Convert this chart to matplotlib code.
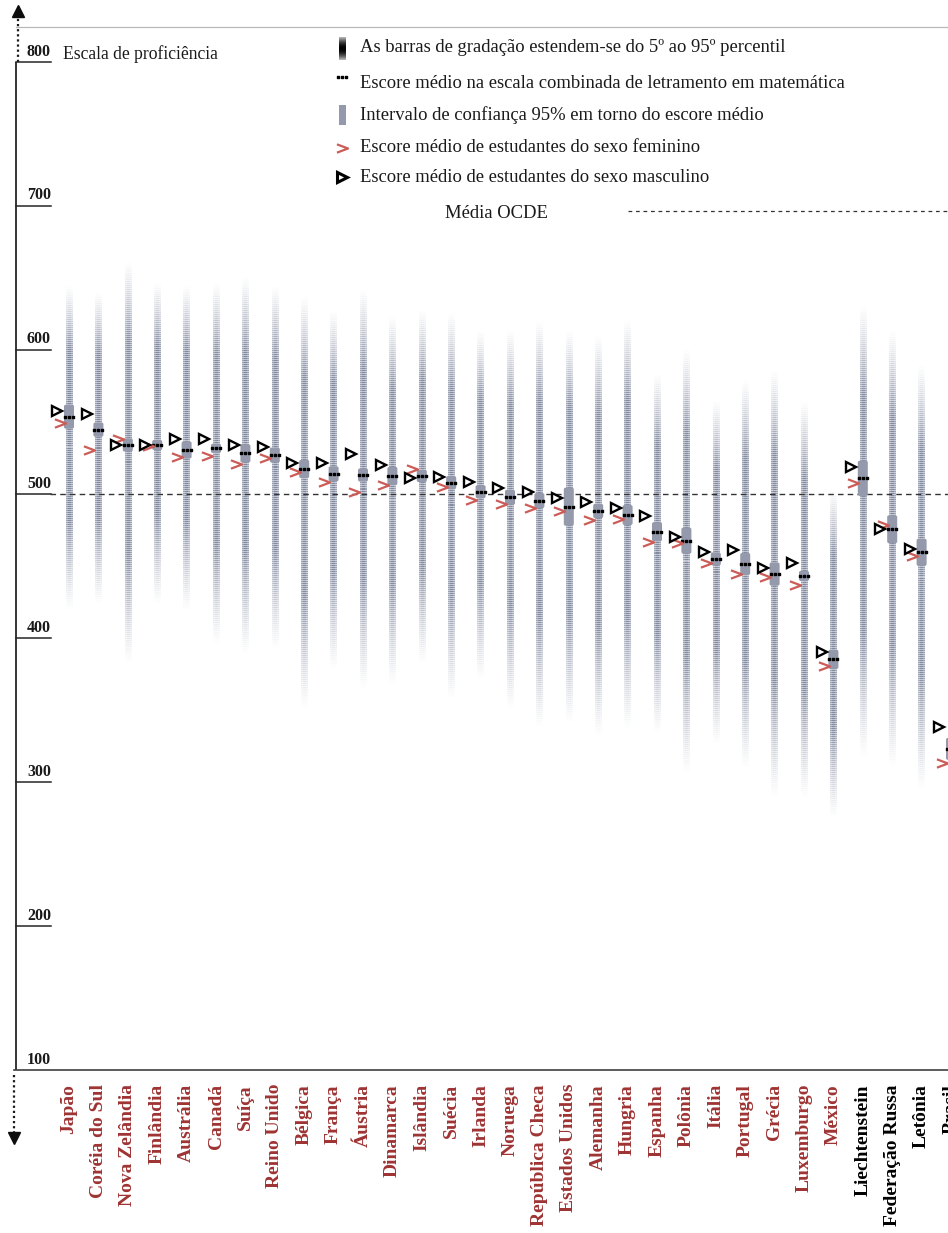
import numpy as np
import matplotlib
matplotlib.use("Agg")
import matplotlib.pyplot as plt
from matplotlib.path import Path
from matplotlib.patches import FancyBboxPatch, Rectangle
import matplotlib.transforms as mtrans

plt.rcParams['font.family'] = ['Liberation Serif', 'DejaVu Serif']

# ---------------- data ----------------
countries = ["Japão", "Coréia do Sul", "Nova Zelândia", "Finlândia", "Austrália",
             "Canadá", "Suíça", "Reino Unido", "Bélgica", "França", "Áustria",
             "Dinamarca", "Islândia", "Suécia", "Irlanda", "Noruega",
             "República Checa", "Estados Unidos", "Alemanha", "Hungria",
             "Espanha", "Polônia", "Itália", "Portugal", "Grécia", "Luxemburgo",
             "México", "Liechtenstein", "Federação Russa", "Letônia", "Brasil"]
is_oecd = [True] * 27 + [False] * 4

mean_score = [553.7, 544.7, 534.0, 534.0, 530.6, 531.7, 528.2, 527.0, 517.4, 514.0,
              513.2, 512.5, 512.5, 507.9, 501.6, 497.7, 495.4, 491.2, 488.2, 485.4,
              473.8, 467.6, 454.9, 451.4, 444.4, 443.1, 385.2, 510.9, 475.5, 459.5, 323.0]
male_score = [557.6, 555.6, 534.0, 534.0, 538.0, 538.0, 534.0, 532.4, 521.3, 521.3,
              527.8, 520.0, 510.9, 512.0, 508.6, 503.9, 501.2, 497.4, 494.7, 490.0,
              484.7, 470.4, 459.9, 461.1, 448.8, 452.3, 390.1, 518.5, 475.5, 461.6, 338.4]
female_score = [549.5, 530.6, 538.0, 533.5, 526.0, 526.6, 520.8, 524.8, 515.0, 508.6,
                501.6, 506.3, 517.1, 505.1, 495.8, 493.0, 490.0, 488.2, 481.9, 482.6,
                466.9, 465.8, 451.9, 444.4, 442.1, 436.8, 380.8, 507.4, 478.5, 457.0, 313.0]
ci_half = [8.3, 4.9, 4.5, 3.5, 5.9, 3.2, 6.3, 5.2, 6.3, 5.2, 4.5, 6.3, 4.2, 4.5, 4.5,
           5.2, 5.2, 13.2, 4.9, 6.9, 6.6, 9.0, 4.5, 7.6, 8.0, 3.5, 6.6, 12.2, 9.7, 9.4, 7.6]
p95 = [645, 640, 661, 647, 645, 647, 651, 645, 638, 628, 642, 624, 628, 626, 614,
       614, 621, 614, 610, 621, 583, 601, 565, 579, 586, 565, 503, 631, 614, 590, 450]
p5 = [419, 423, 381, 423, 418, 395, 388, 392, 350, 378, 364, 367, 381, 357, 371,
      350, 337, 340, 331, 336, 333, 305, 326, 309, 288, 288, 274, 316, 310, 294, 194]
oecd_mean = 500
y_ticks = [100, 200, 300, 400, 500, 600, 700, 800]

legend_texts = ["As barras de gradação estendem-se do 5º ao 95º percentil",
                "Escore médio na escala combinada de letramento em matemática",
                "Intervalo de confiança 95% em torno do escore médio",
                "Escore médio de estudantes do sexo feminino",
                "Escore médio de estudantes do sexo masculino"]

# ---------------- layout constants ----------------
W, H = 948, 1233
PX_X = 29.4      # pixels per country column
PX_Y = 1.44      # pixels per score point
X0 = 69          # pixel x of first column
Y800 = 62        # pixel y of score 800

RED = (0.80, 0.36, 0.34)
LABEL_RED = (0.62, 0.20, 0.20)
BAR_RGB = (0.50, 0.53, 0.62)
BOX_RGB = (0.58, 0.60, 0.67)

fig = plt.figure(figsize=(W / 100, H / 100), dpi=100)
deco = fig.add_axes([0, 0, 1, 1])
ax = fig.add_axes([0, 0, 1, 1])
for a in (deco, ax):
    a.axis('off')

xlim = (-X0 / PX_X, (W - X0) / PX_X)
ylim = (800 - (H - Y800) / PX_Y, 800 + Y800 / PX_Y)

x = np.arange(len(countries))

# ---------------- percentile gradient bars ----------------
bar_w = 6.5 / PX_X


def grad_bar(xc, lo, hi):
    L = max(int(round((hi - lo) * PX_Y)), 6)
    i = np.arange(L)
    t = (i + 0.5) / L
    fade = np.clip(np.minimum(t / 0.28, (1 - t) / 0.2), 0, 1) ** 1.2
    stripe = np.where(i % 2 == 1, 0.5, 1.0)
    alpha = 0.97 * fade * stripe
    img = np.zeros((L, 3, 4))
    img[..., 0], img[..., 1], img[..., 2] = BAR_RGB
    img[..., 3] = alpha[:, None] * np.array([0.8, 1.0, 0.8])[None, :]
    ax.imshow(img, extent=[xc - bar_w / 2, xc + bar_w / 2, lo, hi], origin='lower',
              aspect='auto', interpolation='nearest', zorder=1)


for xi, lo, hi in zip(x, p5, p95):
    grad_bar(xi, lo, hi)

# OECD mean dashed line
ax.plot([xlim[0] + 50 / PX_X, xlim[1]], [oecd_mean, oecd_mean], color='0.2',
        lw=1.0, ls=(0, (4, 3)), zorder=2)

# ---------------- confidence boxes ----------------
box_w = 10 / PX_X
aspect = PX_X / PX_Y
for xi, m, h in zip(x, mean_score, ci_half):
    ax.add_patch(FancyBboxPatch((xi - box_w / 2, m - h), box_w, 2 * h,
                                boxstyle="round,pad=0,rounding_size=0.06",
                                mutation_aspect=aspect, fc=BOX_RGB, ec='none', zorder=3))

# mean marker: three small squares
sq = []
codes = []
for cx in (-1.2, 0.0, 1.2):
    sq += [(cx - 0.4, -0.4), (cx + 0.4, -0.4), (cx + 0.4, 0.4), (cx - 0.4, 0.4), (cx - 0.4, -0.4)]
    codes += [Path.MOVETO, Path.LINETO, Path.LINETO, Path.LINETO, Path.CLOSEPOLY]
dots_marker = Path(sq, codes)
ax.plot(x, mean_score, ls='none', marker=dots_marker, ms=7.5, color='black', zorder=5)

# female chevron
chevron = Path([(-1, 0.75), (1, 0), (-1, -0.75)], [Path.MOVETO, Path.LINETO, Path.LINETO])
ax.plot(x - 0.32, female_score, ls='none', marker=chevron, ms=8, mfc='none', mec=RED,
        mew=1.6, zorder=6)
# male open triangle
ax.plot(x - 0.40, male_score, ls='none', marker='>', ms=7, mfc='white', mec='black',
        mew=1.7, zorder=7)

ax.set_xlim(*xlim)
ax.set_ylim(*ylim)

# ---------------- axis decoration ----------------
ty = mtrans.blended_transform_factory(deco.transData, ax.transData)   # x pixels, y scores
tx = mtrans.blended_transform_factory(ax.transData, deco.transData)   # x columns, y pixels

# vertical axis
deco.plot([16, 16], [800, 100], color='0.15', lw=1.3, transform=ty, solid_capstyle='butt')
deco.plot([18, 18], [Y800, 16], color='0.1', lw=1.6, ls=(0, (1, 1.3)))
deco.plot([18], [11], marker='^', ms=9, color='0.05', ls='none')
deco.plot([14, 14], [1075, 1132], color='0.1', lw=1.6, ls=(0, (1, 1.3)))
deco.plot([14], [1138], marker='v', ms=9, color='0.05', ls='none')
# bottom axis line and top grey rule
deco.plot([14, W], [100, 100], color='0.25', lw=1.2, transform=ty)
deco.plot([16, W], [27, 27], color='0.72', lw=0.9)

for v in y_ticks:
    if v != 100:
        deco.plot([16, 51], [v, v], color='0.15', lw=1.1, transform=ty)
    deco.text(51, v + 2.5 / PX_Y, str(v), transform=ty, ha='right', va='bottom',
              fontsize=11.5, fontweight='bold', color='0.1')

deco.text(63, Y800 - 3, "Escala de proficiência", ha='left', va='baseline',
          fontsize=12.7, color='0.1')

# country labels
for xi, name, o in zip(x, countries, is_oecd):
    deco.text(xi, 1084, name, transform=tx, rotation=90, ha='center', va='top',
              fontsize=14, fontweight='bold', color=LABEL_RED if o else 'black')

# ---------------- legend ----------------
leg_y = [47, 84, 115, 147, 178]
leg_x_icon = 342
for yy, txt in zip(leg_y, legend_texts):
    deco.text(360, yy, txt, ha='left', va='center', fontsize=13.4, color='0.1')

# icon 1: dark gradient bar
n = 24
t = (np.arange(n) + 0.5) / n
icon = np.zeros((n, 1, 4))
icon[..., 3] = (0.25 + 0.75 * np.sin(np.pi * t))[:, None]
deco.imshow(icon, extent=[339, 346, 60, 37], origin='lower', aspect='auto',
            interpolation='bilinear')
# icon 2: mean dots
deco.plot([leg_x_icon], [77], marker=dots_marker, ms=7.5, color='black', ls='none')
# icon 3: grey box
deco.add_patch(Rectangle((339, 105), 7, 20, fc=BOX_RGB, ec='none'))
# icon 4: red chevron
deco.plot([leg_x_icon], [148], marker=chevron, ms=8, mfc='none', mec=RED, mew=1.6, ls='none')
# icon 5: male triangle
deco.plot([leg_x_icon], [177], marker='>', ms=7, mfc='white', mec='black', mew=2.2, ls='none')

deco.text(445, 213, "Média OCDE", ha='left', va='center', fontsize=13.4, color='0.1')
deco.plot([628, W], [211, 211], color='0.2', lw=0.9, ls=(0, (3, 3)))

deco.set_xlim(0, W)
deco.set_ylim(H, 0)

fig.savefig("out.png", dpi=100)
